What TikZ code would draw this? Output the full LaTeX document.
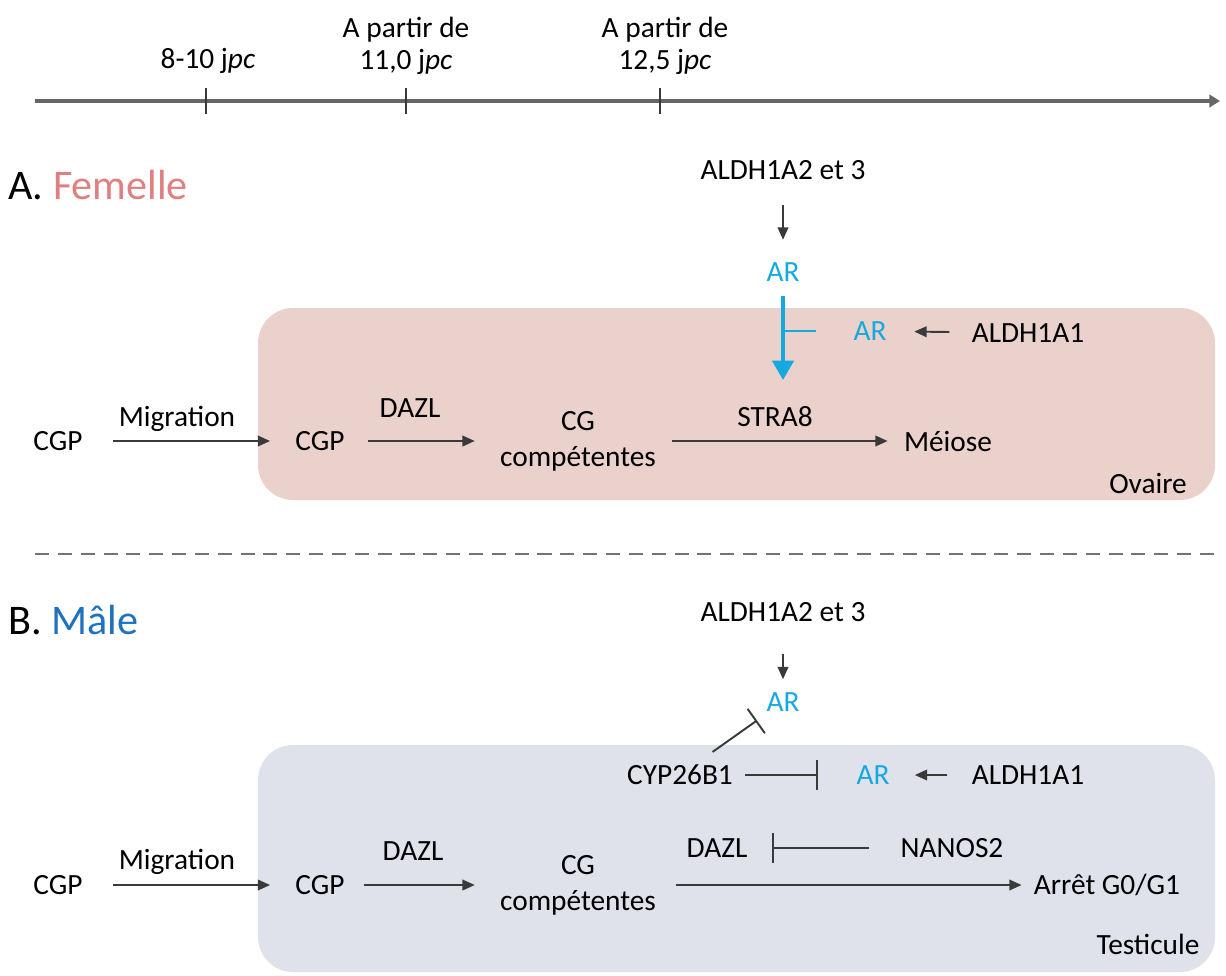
\documentclass[tikz,border=0pt]{standalone}
\usepackage{fontspec}
\setmainfont{Carlito}
\usetikzlibrary{arrows.meta}
\definecolor{ovaire}{HTML}{EBD1CC}
\definecolor{testicule}{HTML}{DFE2EB}
\definecolor{acide}{HTML}{14AADF}
\definecolor{femelle}{HTML}{E07F7F}
\definecolor{male}{HTML}{1F72BE}
\definecolor{trait}{HTML}{3A3A3A}
\begin{document}
\begin{tikzpicture}[x=0.02cm, y=-0.02cm, font=\fontsize{16.7}{20.5}\selectfont,
  lbl/.style={inner sep=0pt},
  ar/.style={lbl, text=acide},
  act/.style={draw=trait, line width=1.1pt, -{Triangle[length=7pt,width=6pt]}, shorten <=5mm, shorten >=5mm},
  inhib/.style={draw=trait, line width=1.1pt, -{Bar[width=17pt,line width=1.1pt]}}]
\useasboundingbox (0,0) rectangle (1226,975);

% time line
\draw[draw=black!60, line width=2.4pt, -{Triangle[length=6pt,width=7pt]}] (35,101) -- (1220,101);
\foreach \x in {206,406,660}
  \draw[trait, line width=0.9pt] (\x,88) -- (\x,114);
\node (t1) at (208,61) [lbl] {8-10 j\textit{pc}};
\node (t2) at (406,46) [lbl, align=center, font=\fontsize{16.7}{18.2}\selectfont] {A partir de\\11,0 j\textit{pc}};
\node (t3) at (665,46) [lbl, align=center, font=\fontsize{16.7}{18.2}\selectfont] {A partir de\\12,5 j\textit{pc}};

% A. femelle
\fill[ovaire, rounded corners=7mm] (258,308) rectangle (1215,500);
\node (titA) at (8,185) [lbl, anchor=west, font=\fontsize{24}{28}\selectfont] {A. \textcolor{femelle}{Femelle}};
\node (aldhA) at (783,170) [lbl] {ALDH1A2 et 3};
\node (arA) at (783,272) [ar] {AR};
\node (arA2) at (870,331) [ar] {AR};
\node (aldhA2) at (1028,333) [lbl] {ALDH1A1};
\node (cgpA1) at (58,441) [lbl] {CGP};
\node (cgpA2) at (320,441) [lbl] {CGP};
\node (cgA) at (578,441) [lbl, align=center] {CG\\compétentes};
\node (meiose) at (948,441) [lbl] {Méiose};
\node (migA) at (177,419) [lbl] {Migration};
\node (dazlA) at (410,408) [lbl] {DAZL};
\node (stra8) at (775,417) [lbl] {STRA8};
\node (ovaire) at (1148,483) [lbl] {Ovaire};
\coordinate (tgtA) at (783,380);
\coordinate (hitA) at (785,331);

\draw[act, shorten >=4.5mm] (aldhA) to (arA);
\draw[draw=acide, line width=2.3pt, -{Triangle[length=11pt,width=12pt]}, shorten <=2.8mm] (arA) to (tgtA);
\draw[draw=acide, line width=1.2pt, shorten <=7.4mm] (arA2) to (hitA);
\draw[act, shorten <=4.4mm, shorten >=5.5mm] (aldhA2) to (arA2);
\draw[act, shorten <=6mm] (cgpA1) to (cgpA2);
\draw[act, shorten <=4.6mm] (cgpA2) to (cgA);
\draw[act, shorten <=3.2mm, shorten >=3.2mm] (cgA) to (meiose);

% separation
\draw[draw=black!55, line width=1pt, dash pattern=on 8pt off 5pt] (35,554) -- (1215,554);

% B. male
\fill[testicule, rounded corners=7mm] (258,745) rectangle (1215,972);
\node (titB) at (8,620) [lbl, anchor=west, font=\fontsize{24}{28}\selectfont] {B. \textcolor{male}{Mâle}};
\node (aldhB) at (783,612) [lbl] {ALDH1A2 et 3};
\node (arB) at (783,702) [ar] {AR};
\node (cyp) at (680,775) [lbl] {CYP26B1};
\node (arB2) at (873,775) [ar] {AR};
\node (aldhB2) at (1028,775) [lbl] {ALDH1A1};
\node (dazlB2) at (717,848) [lbl] {DAZL};
\node (nanos) at (952,848) [lbl] {NANOS2};
\node (cgpB1) at (58,885) [lbl] {CGP};
\node (cgpB2) at (320,885) [lbl] {CGP};
\node (cgB) at (578,885) [lbl, align=center] {CG\\compétentes};
\node (arret) at (1107,885) [lbl] {Arrêt G0/G1};
\node (migB) at (177,862) [lbl] {Migration};
\node (dazlB) at (413,851) [lbl] {DAZL};
\node (testicule) at (1148,944) [lbl] {Testicule};

\draw[act, shorten <=6.5mm, shorten >=2.6mm] (aldhB) to (arB);
\draw[inhib, shorten <=4.4mm, shorten >=3mm] (cyp) to (arB);
\draw[inhib, shorten <=2.4mm, shorten >=7.6mm] (cyp) to (arB2);
\draw[act, shorten <=4.8mm, shorten >=5mm] (aldhB2) to (arB2);
\draw[inhib, shorten <=6.2mm, shorten >=4.8mm] (nanos) to (dazlB2);
\draw[act, shorten <=6mm] (cgpB1) to (cgpB2);
\draw[act, shorten <=3.8mm] (cgpB2) to (cgB);
\draw[act, shorten <=4mm, shorten >=2.4mm] (cgB.east |- arret) to (arret);
\end{tikzpicture}
\end{document}
